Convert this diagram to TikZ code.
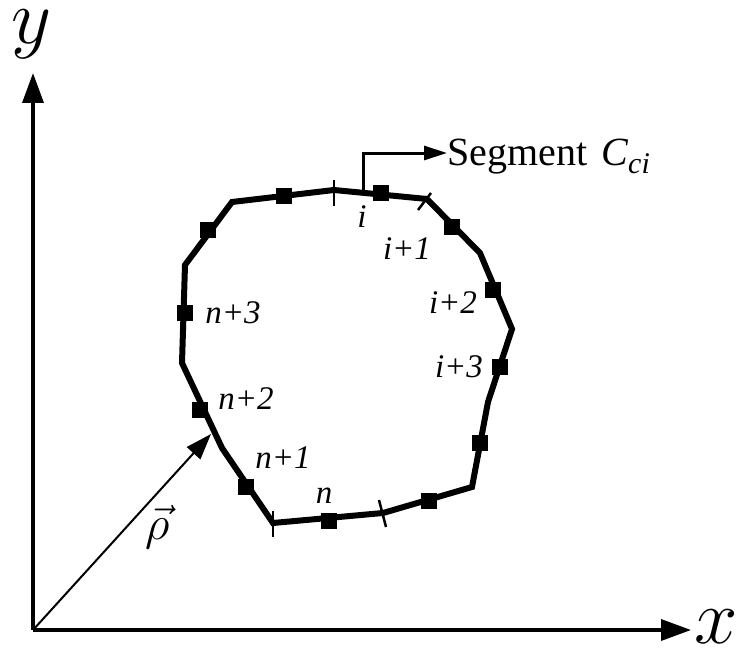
\RequirePackage{fix-cm}
\documentclass[tikz,border=0pt]{standalone}
\usepackage{fontspec}
\setmainfont{Liberation Serif}
\usetikzlibrary{arrows.meta}
\begin{document}
\begin{tikzpicture}[x=1pt,y=-1pt,
  sq/.style={fill=black,minimum size=16pt,inner sep=0pt,outer sep=0pt,draw=none},
  lbl/.style={font=\fontsize{33}{33}\selectfont\itshape,inner sep=0pt},
  axis/.style={line width=3.5pt,-{Triangle[length=30pt,width=21pt]}},
  contour/.style={line width=6pt,line join=miter},
  tick/.style={line width=2.5pt}]
\useasboundingbox (0,0) rectangle (741,650);
% axes
\coordinate (O) at (33,630);
\coordinate (xe) at (691,630);
\coordinate (ye) at (33,73);
\draw[axis] (O) -- (xe);
\draw[axis] (O) -- (ye);
\node[font=\fontsize{78}{78}\selectfont,inner sep=0pt] (xl) at (716,627) {$x$};
\node[font=\fontsize{78}{78}\selectfont,inner sep=0pt] (yl) at (32,34) {$y$};
% contour vertices
\coordinate (p1) at (232,202);
\coordinate (p2) at (334,190);
\coordinate (p3) at (427,199);
\coordinate (p4) at (480,253);
\coordinate (p5) at (512,329);
\coordinate (p6) at (488,402);
\coordinate (p7) at (472,487);
\coordinate (p8) at (383,513);
\coordinate (p9) at (273,523);
\coordinate (p10) at (222,448);
\coordinate (p11) at (182,363);
\coordinate (p12) at (185,265);
\draw[contour] (p1) -- (p2) -- (p3) -- (p4) -- (p5) -- (p6) -- (p7) -- (p8) -- (p9) -- (p10) -- (p11) -- (p12) -- cycle;
% ticks
\coordinate (t1a) at (334,180); \coordinate (t1b) at (334,206);
\coordinate (t2a) at (418,210); \coordinate (t2b) at (431,193);
\coordinate (t3a) at (273,511); \coordinate (t3b) at (273,537);
\coordinate (t4a) at (379,500); \coordinate (t4b) at (386,527);
\draw[tick] (t1a) -- (t1b);
\draw[tick] (t2a) -- (t2b);
\draw[tick] (t3a) -- (t3b);
\draw[tick] (t4a) -- (t4b);
% squares
\node[sq] (s1) at (284,196) {};
\node[sq] (s2) at (381,193) {};
\node[sq] (s3) at (452,227) {};
\node[sq] (s4) at (493,290) {};
\node[sq] (s5) at (500,367) {};
\node[sq] (s6) at (480,443) {};
\node[sq] (s7) at (429,501) {};
\node[sq] (s8) at (329,521) {};
\node[sq] (s9) at (246,487) {};
\node[sq] (s10) at (200,410) {};
\node[sq] (s11) at (185,313) {};
\node[sq] (s12) at (208,230) {};
% labels
\node[lbl] (li) at (362,217) {i};
\node[lbl] (li1) at (407,249) {i+1};
\node[lbl] (li2) at (453,303) {i+2};
\node[lbl] (li3) at (459,367) {i+3};
\node[lbl] (ln3) at (233,313) {n+3};
\node[lbl] (ln2) at (246,399) {n+2};
\node[lbl] (ln1) at (283,458) {n+1};
\node[lbl] (ln) at (324,496) {n};
% segment pointer
\coordinate (sp) at (363,191);
\node[anchor=base west,inner sep=0pt,font=\fontsize{40}{40}\selectfont] (seg) at (447,165)
  {Segment\hspace{14pt}\textit{C}\raisebox{-8pt}{\fontsize{30}{30}\selectfont\textit{ci}}};
\draw[line width=3pt,-{Triangle[length=23pt,width=14pt]}] (sp) |- (seg.west |- 0,153);
% rho vector
\coordinate (rt) at (211,434);
\draw[line width=2pt,-{Triangle[length=26pt,width=18pt]}] (O) -- (rt);
\node[font=\fontsize{48}{48}\selectfont,inner sep=0pt] (rho) at (158,527) {$\vec{\rho}$};
\end{tikzpicture}
\end{document}
